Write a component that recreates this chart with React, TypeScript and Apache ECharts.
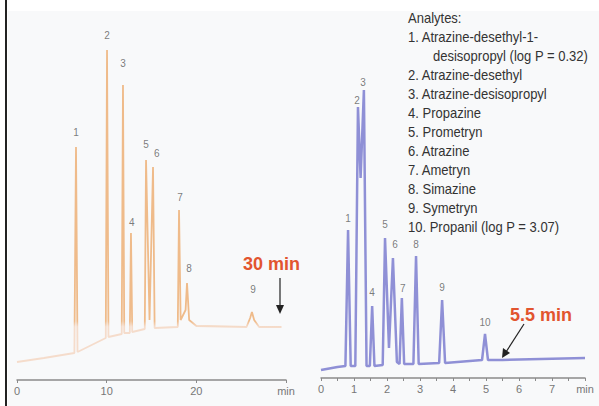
import React, { useEffect, useRef } from "react";
import * as echarts from "echarts";

// ---------- data ----------
// Left chromatogram (30 min run): [time min, detector response]
const leftTrace: [number, number][] = [
  [0, 18], [3, 22], [6.4, 27], [6.58, 233], [6.75, 28], [9.0, 38], [9.9, 42],
  [10.04, 330], [10.2, 43], [11.68, 46], [11.82, 295], [11.96, 47], [12.58, 47],
  [12.71, 147], [12.85, 48], [14.25, 51], [14.39, 220], [14.78, 60], [15.17, 213],
  [15.35, 52], [17.93, 53], [18.07, 170], [18.25, 60], [18.8, 70], [18.96, 97],
  [19.2, 60], [20, 54], [25.6, 53], [26.0, 62], [26.2, 68], [26.45, 60], [27, 53],
  [29.5, 53],
];
const leftPeakIds = ["1", "2", "3", "4", "5", "6", "7", "8", "9"];
const leftLabelTimes = [6.58, 10.04, 11.82, 12.81, 14.39, 15.6, 18.18, 19.19, 26.32];
const leftLabelHeights = [248, 345, 317, 158, 236, 227, 183, 112, 91];

// Right chromatogram (5.5 min run)
const rightTrace: [number, number][] = [
  [0, 8], [0.5, 11], [0.74, 12], [0.82, 148], [0.9, 12], [1.04, 12], [1.12, 271],
  [1.2, 200], [1.3, 288], [1.38, 12], [1.48, 12], [1.55, 72], [1.62, 12], [1.87, 13],
  [1.94, 140], [2.06, 30], [2.18, 120], [2.3, 16], [2.38, 14], [2.45, 80], [2.52, 14],
  [2.8, 14], [2.88, 122], [2.96, 14], [3.58, 15], [3.67, 78], [3.76, 15], [4.88, 18],
  [4.97, 44], [5.06, 18], [5.5, 18], [8, 20],
];
const rightPeakIds = ["1", "2", "3", "4", "5", "6", "7", "8", "9", "10"];
const rightLabelTimes = [0.82, 1.09, 1.27, 1.55, 1.94, 2.24, 2.48, 2.88, 3.67, 4.97];
const rightLabelHeights = [160, 278, 296, 86, 154, 134, 90, 134, 91, 56];

const leftTicks = { min: 0, max: 30, interval: 10, endLabel: "min" };
const rightTicks = { min: 0, max: 8, interval: 1, endLabel: "min" };

const legendTitle = "Analytes:";
const legendLines = [
  "1. Atrazine-desethyl-1-",
  "   desisopropyl (log P = 0.32)",
  "2. Atrazine-desethyl",
  "3. Atrazine-desisopropyl",
  "4. Propazine",
  "5. Prometryn",
  "6. Atrazine",
  "7. Ametryn",
  "8. Simazine",
  "9. Symetryn",
  "10. Propanil (log P = 3.07)",
];
const leftRunNote = "30 min";
const rightRunNote = "5.5 min";

const FONT = "'Liberation Sans', Arial, sans-serif";

export default function App() {
  const ref = useRef<HTMLDivElement>(null);

  useEffect(() => {
    if (!ref.current) return;
    const chart = echarts.init(ref.current, undefined, { renderer: "svg" });

    const axisCommon = (t: typeof leftTicks, grid: number, minor: boolean) => ({
      gridIndex: grid,
      type: "value" as const,
      min: t.min,
      max: t.max,
      interval: t.interval,
      splitLine: { show: false },
      axisLine: { show: true, onZero: false, lineStyle: { color: "#8a8a8a", width: 1.5 } },
      axisTick: { show: true, length: 3, inside: false, lineStyle: { color: "#8a8a8a" } },
      minorTick: { show: minor, splitNumber: 2, length: 3, lineStyle: { color: "#8a8a8a" } },
      axisLabel: {
        color: "#777",
        fontSize: 11,
        fontFamily: FONT,
        margin: 5,
        formatter: (v: number) => (v === t.max ? t.endLabel : String(v)),
      },
    });

    const labelSeries = (ids: string[], times: number[], heights: number[], idx: number) => ({
      type: "scatter" as const,
      xAxisIndex: idx,
      yAxisIndex: idx,
      symbolSize: 0,
      silent: true,
      data: ids.map((id, i) => ({ name: id, value: [times[i], heights[i]] })),
      label: {
        show: true,
        position: "inside" as const,
        formatter: "{b}",
        color: "#5a5a5a",
        fontSize: 10,
        fontFamily: FONT,
      },
    });

    const legendX = 408;
    const legendTop = 18;
    const lh = 19;
    const sx = 0.93;
    const legendGraphics: any[] = [
      {
        type: "text",
        x: legendX,
        y: legendTop,
        scaleX: sx,
        style: { text: legendTitle, fill: "#333", font: `14px ${FONT}`, verticalAlign: "middle" },
      },
      ...legendLines.map((line, i) => ({
        type: "text",
        x: line.startsWith("   ") ? legendX + 25 : legendX,
        y: legendTop + (i + 1) * lh,
        scaleX: sx,
        style: { text: line.trim(), fill: "#333", font: `14px ${FONT}`, verticalAlign: "middle" },
      })),
    ];

    // peaks drawn orange, faint baseline drawn pale (split at pixel y ~322)
    const leftColor = {
      type: "linear",
      x: 0,
      y: 0,
      x2: 0,
      y2: 380,
      global: true,
      colorStops: [
        { offset: 0, color: "#efbb8a" },
        { offset: 0.845, color: "#efbb8a" },
        { offset: 0.86, color: "#f5dccb" },
        { offset: 1, color: "#f5dccb" },
      ],
    };

    chart.setOption({
      animation: false,
      backgroundColor: "#ffffff",
      grid: [
        { left: 17, width: 269, top: 0, height: 380 },
        { left: 321, width: 264, top: 0, height: 378 },
      ],
      xAxis: [axisCommon(leftTicks, 0, false), axisCommon(rightTicks, 1, true)],
      yAxis: [
        { gridIndex: 0, type: "value", min: 0, max: 380, show: false },
        { gridIndex: 1, type: "value", min: 0, max: 378, show: false },
      ],
      graphic: [
        { type: "rect", z: -10, shape: { x: 8, y: 11, width: 591, height: 395 }, style: { fill: "#f8f9fa" } },
        { type: "line", shape: { x1: 6, y1: 0, x2: 6, y2: 406 }, style: { stroke: "#222", lineWidth: 2 } },
        ...legendGraphics,
        {
          type: "text",
          left: 243,
          top: 255,
          style: { text: leftRunNote, fill: "#e2552f", font: `bold 18px 'Liberation Sans', sans-serif` },
        },
        { type: "line", shape: { x1: 280, y1: 278, x2: 280, y2: 308 }, style: { stroke: "#222", lineWidth: 1.2 } },
        { type: "polygon", shape: { points: [[276, 305], [284, 305], [280, 314]] }, style: { fill: "#222" } },
        {
          type: "text",
          left: 510,
          top: 306,
          style: { text: rightRunNote, fill: "#e2552f", font: `bold 18px 'Liberation Sans', sans-serif` },
        },
        { type: "line", shape: { x1: 524, y1: 324, x2: 506, y2: 352 }, style: { stroke: "#222", lineWidth: 1.2 } },
        { type: "polygon", shape: { points: [[502, 358], [503, 348], [510, 353]] }, style: { fill: "#222" } },
      ],
      series: [
        {
          type: "line",
          xAxisIndex: 0,
          yAxisIndex: 0,
          data: leftTrace,
          showSymbol: false,
          lineStyle: { color: leftColor, width: 1.8 },
          silent: true,
        },
        {
          type: "line",
          xAxisIndex: 1,
          yAxisIndex: 1,
          data: rightTrace,
          showSymbol: false,
          lineStyle: { color: "#8f90d6", width: 2.5 },
          silent: true,
        },
        labelSeries(leftPeakIds, leftLabelTimes, leftLabelHeights, 0),
        labelSeries(rightPeakIds, rightLabelTimes, rightLabelHeights, 1),
      ],
    });

    return () => chart.dispose();
  }, []);

  return <div ref={ref} style={{ width: 599, height: 406, position: "absolute", left: 0, top: 0 }} />;
}
